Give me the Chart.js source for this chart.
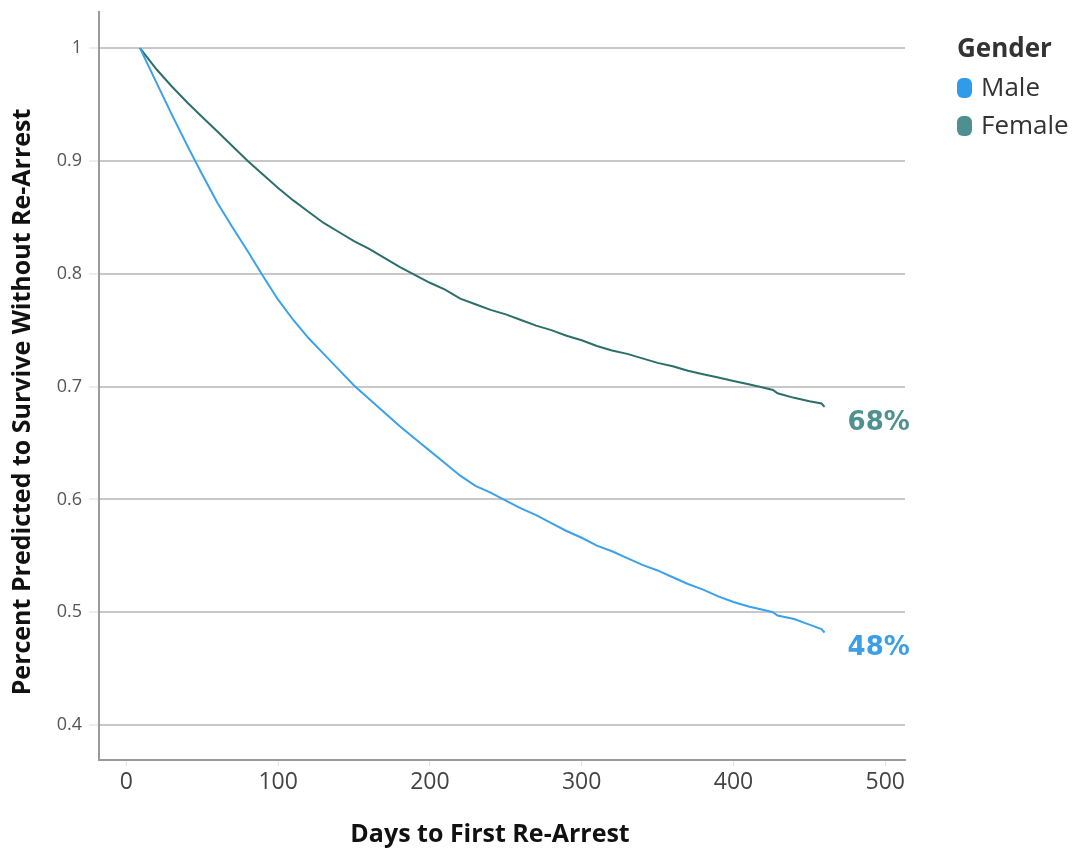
<!DOCTYPE html>
<html>
<head>
<meta charset="utf-8">
<title>Survival without re-arrest by gender</title>
<script src="https://cdn.jsdelivr.net/npm/chart.js@4.4.1/dist/chart.umd.min.js"></script>
<style>
  html, body { margin: 0; padding: 0; background: #fff; }
  #wrap { position: relative; width: 1076px; height: 850px; }
  #legend { position: absolute; left: 957px; top: 0; font-family: 'Open Sans', sans-serif; color: #333; }
  #legend .ttl { position: absolute; top: 30px; left: 0; font-size: 26px; font-weight: 700; line-height: 34px; white-space: nowrap; }
  #legend .item { position: absolute; left: 0; font-size: 26px; line-height: 34px; white-space: nowrap; }
  #legend .sw { display: inline-block; width: 15px; height: 20px; border-radius: 6px; margin-right: 9px; vertical-align: -2px; }
</style>
</head>
<body>
<div id="wrap">
  <canvas id="survivalChart" width="1076" height="850"></canvas>
  <div id="legend">
    <div class="ttl">Gender</div>
    <div class="item" style="top:69px"><span class="sw" style="background:#2f9ce9"></span>Male</div>
    <div class="item" style="top:107px"><span class="sw" style="background:#4e9090"></span>Female</div>
  </div>
</div>
<script>
// DATA

const days = [9, 20, 30, 40, 50, 60, 70, 80, 90, 100,
              110, 120, 130, 140, 150, 160, 170, 180, 190, 200,
              210, 220, 230, 240, 250, 260, 270, 280, 290, 300,
              310, 320, 330, 340, 350, 360, 370, 380, 390, 400,
              410, 420, 426, 429, 440, 450, 458, 460];

const male = [1.000, 0.969, 0.941, 0.914, 0.888, 0.863, 0.841, 0.820, 0.798, 0.777,
              0.759, 0.743, 0.729, 0.715, 0.701, 0.689, 0.677, 0.665, 0.654, 0.643,
              0.632, 0.621, 0.612, 0.606, 0.599, 0.592, 0.586, 0.579, 0.572, 0.566,
              0.559, 0.554, 0.548, 0.542, 0.537, 0.531, 0.525, 0.520, 0.514, 0.509,
              0.505, 0.502, 0.500, 0.497, 0.494, 0.489, 0.485, 0.482];

const female = [1.000, 0.981, 0.966, 0.952, 0.939, 0.926, 0.913, 0.900, 0.888, 0.876,
                0.865, 0.855, 0.845, 0.837, 0.829, 0.822, 0.814, 0.806, 0.799, 0.792,
                0.786, 0.778, 0.773, 0.768, 0.764, 0.759, 0.754, 0.750, 0.745, 0.741,
                0.736, 0.732, 0.729, 0.725, 0.721, 0.718, 0.714, 0.711, 0.708, 0.705,
                0.702, 0.699, 0.697, 0.694, 0.690, 0.687, 0.685, 0.682];

const xTicks = [0, 100, 200, 300, 400, 500];
const yTicks = [0.4, 0.5, 0.6, 0.7, 0.8, 0.9, 1];

const endLabels = ['48%', '68%'];
const xTitle = 'Days to First Re-Arrest';
const yTitle = 'Percent Predicted to Survive Without Re-Arrest';

const FONT = "'Open Sans', sans-serif";


// END LABELS + AXIS TITLES

const annotatePlugin = {
    id: 'annotate',
    afterDatasetsDraw(chart) {
        const c = chart.ctx;
        const xs = chart.scales.x;
        const ys = chart.scales.y;

        chart.data.datasets.forEach((ds, i) => {
            const last = ds.data[ds.data.length - 1];
            c.save();
            c.font = "bold 26px 'DejaVu Sans', sans-serif";
            c.fillStyle = ds.labelColor;
            c.textAlign = 'left';
            c.textBaseline = 'middle';
            c.fillText(endLabels[i], xs.getPixelForValue(last.x) + 23, ys.getPixelForValue(last.y) + 16);
            c.restore();
        });

        c.save();
        c.font = 'bold 25px ' + FONT;
        c.fillStyle = '#111';
        c.textAlign = 'center';
        c.textBaseline = 'middle';
        c.fillText(xTitle, 490, 835);
        c.translate(23, 402);
        c.rotate(-Math.PI / 2);
        c.fillText(yTitle, 0, 0);
        c.restore();
    }
};


// CHART

const ctx = document.getElementById('survivalChart');

new Chart(ctx, {
    type: 'line',

    data: {
        datasets: [
            {
                label: 'Male',
                data: days.map((d, i) => ({ x: d, y: male[i] })),
                borderColor: '#3ba1ec',
                labelColor: '#3a9fe8',
                borderWidth: 2,
                pointRadius: 0,
                tension: 0
            },
            {
                label: 'Female',
                data: days.map((d, i) => ({ x: d, y: female[i] })),
                borderColor: '#2b6f6b',
                labelColor: '#4f9190',
                borderWidth: 2,
                pointRadius: 0,
                tension: 0
            }
        ]
    },

    options: {
        responsive: false,
        animation: false,
        layout: { padding: { top: 12, right: 171, left: 0, bottom: 0 } },

        plugins: {
            legend: { display: false },
            tooltip: { enabled: false }
        },

        scales: {
            x: {
                type: 'linear',
                min: -18,
                max: 513,
                afterBuildTicks: s => { s.ticks = xTicks.map(v => ({ value: v })); },
                afterFit: s => { s.height = 90; s.paddingLeft = 0; s.paddingRight = 0; },
                grid: { drawOnChartArea: false, tickLength: 6, tickColor: '#e4e4e4' },
                border: { color: '#9a9a9a', width: 2 },
                ticks: { font: { family: FONT, size: 23 }, color: '#444', padding: 3, maxRotation: 0 },
                title: { display: false }
            },
            y: {
                type: 'linear',
                min: 0.369,
                max: 1.032,
                afterBuildTicks: s => { s.ticks = yTicks.map(v => ({ value: v })); },
                afterFit: s => { s.width = 99; s.paddingTop = 0; s.paddingBottom = 0; },
                grid: { color: '#c8c8c8', lineWidth: 2, tickLength: 10, tickColor: '#eeeeee' },
                border: { color: '#9a9a9a', width: 2 },
                ticks: {
                    font: { family: FONT, size: 18 },
                    color: '#555',
                    padding: 7,
                    callback: v => String(+v.toFixed(1))
                },
                title: { display: false }
            }
        }
    },

    plugins: [annotatePlugin]
});
</script>
</body>
</html>
